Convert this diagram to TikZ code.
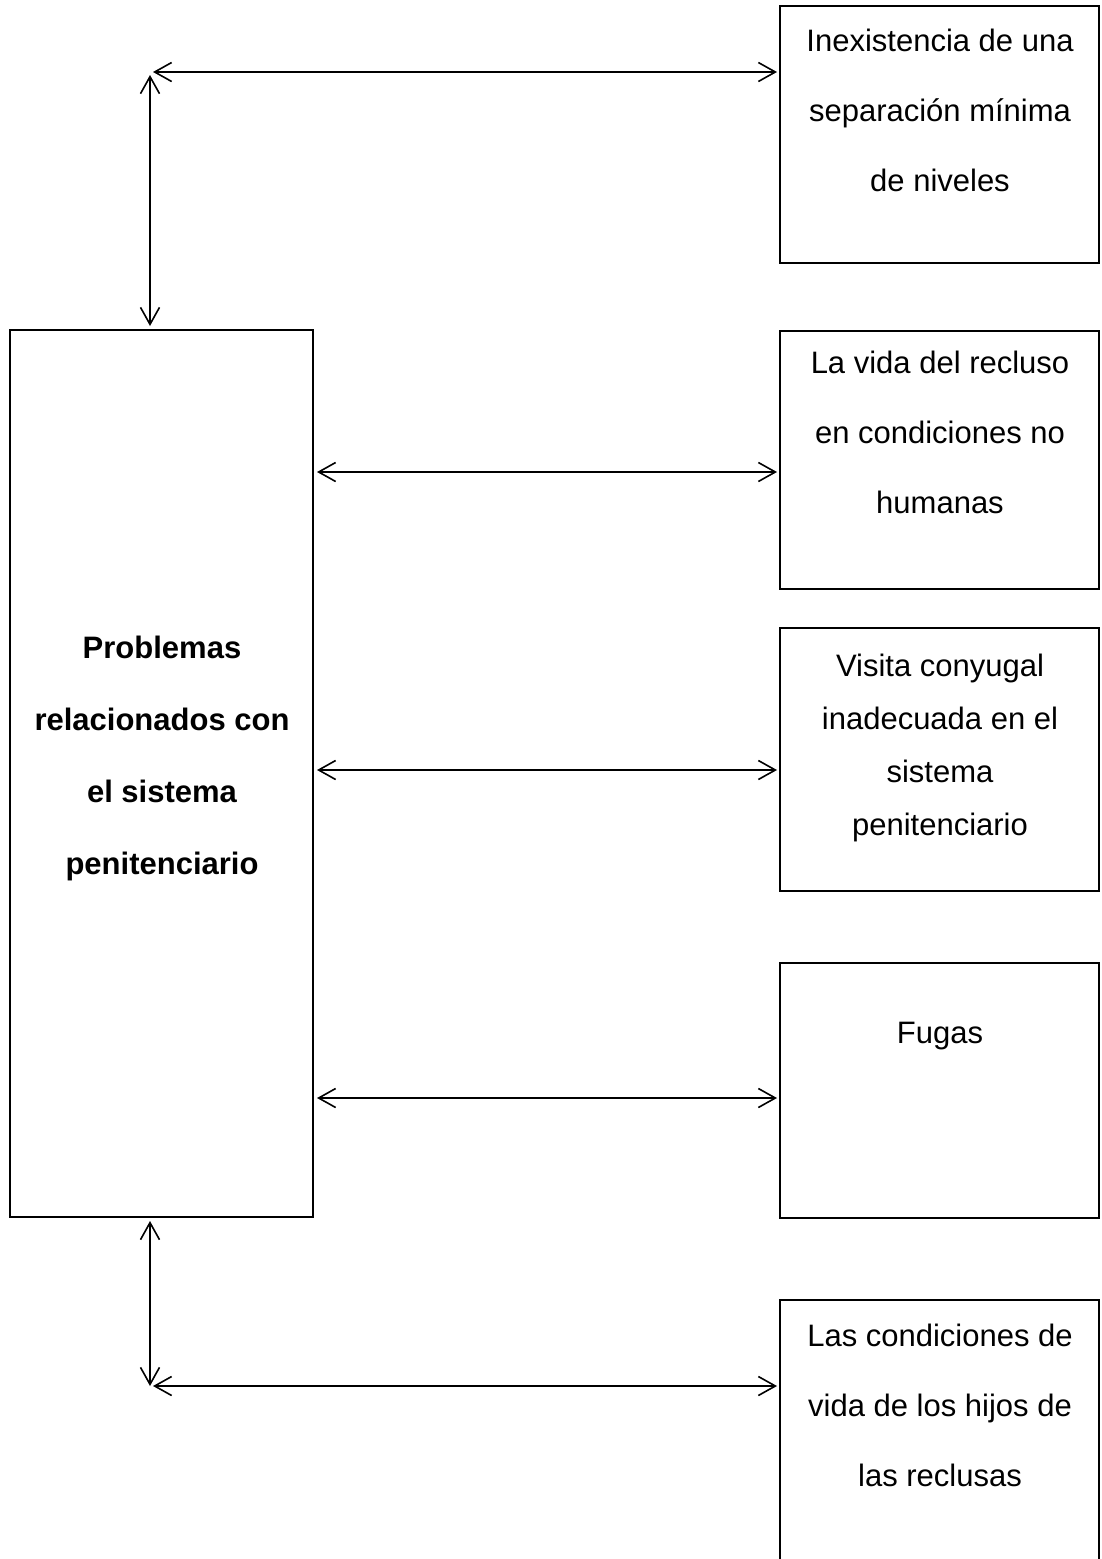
\documentclass[tikz,border=0pt]{standalone}
\usepackage{fontspec}
\setmainfont{Liberation Sans}
\usetikzlibrary{arrows.meta}
\begin{document}
\begin{tikzpicture}[x=1pt,y=-1pt,
  box/.style={draw=black,line width=2pt,rectangle,inner sep=0pt},
  lbl/.style={align=center,inner sep=0pt,font=\fontsize{31pt}{70pt}\selectfont},
  lbltight/.style={align=center,inner sep=0pt,font=\fontsize{31pt}{53pt}\selectfont},
  link/.style={line width=1.6pt,{Straight Barb[length=17pt,width=19pt,line width=1.6pt]}-{Straight Barb[length=17pt,width=19pt,line width=1.6pt]}}]
\useasboundingbox (0,0) rectangle (1101,1559);
\clip (0,0) rectangle (1101,1559);
% boxes
\node[box,minimum width=303pt,minimum height=887pt] (main) at (161.5,773.5) {};
\node[box,minimum width=319pt,minimum height=257pt] (b1) at (939.5,134.5) {};
\node[box,minimum width=319pt,minimum height=258pt] (b2) at (939.5,460) {};
\node[box,minimum width=319pt,minimum height=263pt] (b3) at (939.5,759.5) {};
\node[box,minimum width=319pt,minimum height=255pt] (b4) at (939.5,1090.5) {};
\node[box,minimum width=319pt,minimum height=320pt] (b5) at (939.5,1460) {};
% texts
\node[lbl,font=\fontsize{31pt}{72pt}\selectfont\bfseries] (tmain) at (162,758) {Problemas\\relacionados con\\el sistema\\penitenciario};
\node[lbl] (t1) at (940,110) {Inexistencia de una\\separación mínima\\de niveles};
\node[lbl] (t2) at (940,432) {La vida del recluso\\en condiciones no\\humanas};
\node[lbltight] (t3) at (940,748) {Visita conyugal\\inadecuada en el\\sistema\\penitenciario};
\node[lbl] (t4) at (940,1036) {Fugas};
\node[lbl] (t5) at (940,1405) {Las condiciones de\\vida de los hijos de\\las reclusas};
% connector coordinates
\coordinate (ctop) at (150,72);
\coordinate (cbot) at (150,1386);
\coordinate (r2) at (0,472);
\coordinate (r3) at (0,770);
\coordinate (r4) at (0,1098);
% connectors
\draw[link,shorten <=3pt,shorten >=2pt] (ctop) -- (b1.west |- ctop);
\draw[link,shorten <=3pt,shorten >=3pt] (ctop) -- (main.north -| ctop);
\draw[link,shorten <=3pt,shorten >=2pt] (main.east |- r2) -- (b2.west |- r2);
\draw[link,shorten <=3pt,shorten >=2pt] (main.east |- r3) -- (b3.west |- r3);
\draw[link,shorten <=3pt,shorten >=2pt] (main.east |- r4) -- (b4.west |- r4);
\draw[link,shorten <=3pt,shorten >=2pt] (cbot) -- (b5.west |- cbot);
\draw[link,shorten >=3pt] (cbot) -- (main.south -| cbot);
\end{tikzpicture}
\end{document}
